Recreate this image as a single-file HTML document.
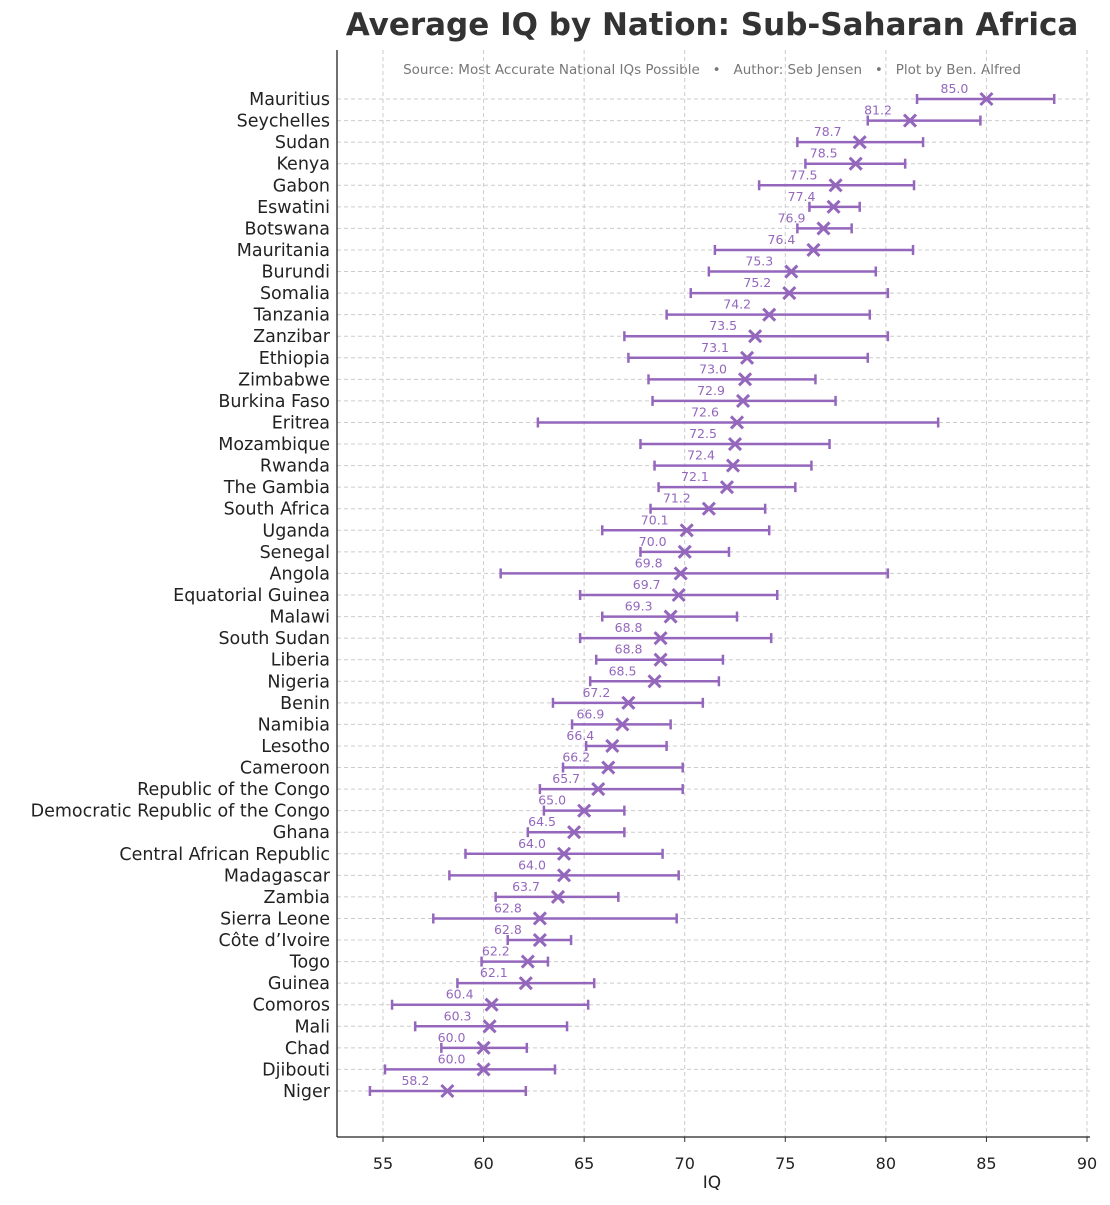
<!DOCTYPE html>
<html><head><meta charset="utf-8"><style>
body{margin:0;background:#fff;}
svg text{font-family:"DejaVu Sans","Liberation Sans",sans-serif;}
</style></head><body>
<svg id="chart" width="1110" height="1200" xmlns="http://www.w3.org/2000/svg">
<text x="712" y="35" text-anchor="middle" font-size="31" font-weight="bold" fill="#333">Average IQ by Nation: Sub-Saharan Africa</text>
<text x="712" y="74" text-anchor="middle" font-size="13.5" fill="#777" style="white-space:pre" xml:space="preserve">Source: Most Accurate National IQs Possible   •   Author: Seb Jensen   •   Plot by Ben. Alfred</text>
<g id="grid"></g><g id="marks"></g><g id="axes"></g>
</svg>
<script>
const countries=["Mauritius","Seychelles","Sudan","Kenya","Gabon","Eswatini","Botswana","Mauritania","Burundi","Somalia","Tanzania","Zanzibar","Ethiopia","Zimbabwe","Burkina Faso","Eritrea","Mozambique","Rwanda","The Gambia","South Africa","Uganda","Senegal","Angola","Equatorial Guinea","Malawi","South Sudan","Liberia","Nigeria","Benin","Namibia","Lesotho","Cameroon","Republic of the Congo","Democratic Republic of the Congo","Ghana","Central African Republic","Madagascar","Zambia","Sierra Leone","Côte d’Ivoire","Togo","Guinea","Comoros","Mali","Chad","Djibouti","Niger"];
const iq=[85.0,81.2,78.7,78.5,77.5,77.4,76.9,76.4,75.3,75.2,74.2,73.5,73.1,73.0,72.9,72.6,72.5,72.4,72.1,71.2,70.1,70.0,69.8,69.7,69.3,68.8,68.8,68.5,67.2,66.9,66.4,66.2,65.7,65.0,64.5,64.0,64.0,63.7,62.8,62.8,62.2,62.1,60.4,60.3,60.0,60.0,58.2];
const lower=[81.55,79.1,75.6,76.0,73.7,76.2,75.6,71.5,71.2,70.3,69.1,67.0,67.2,68.2,68.4,62.7,67.8,68.5,68.7,68.3,65.9,67.8,60.85,64.8,65.9,64.8,65.6,65.3,63.45,64.4,65.1,63.95,62.8,63.0,62.2,59.1,58.3,60.6,57.5,61.2,59.9,58.7,55.45,56.6,57.9,55.1,54.35];
const upper=[88.37,84.7,81.85,80.96,81.4,78.7,78.3,81.35,79.5,80.1,79.2,80.1,79.1,76.5,77.5,82.6,77.2,76.3,75.5,74.0,74.2,72.2,80.1,74.6,72.6,74.3,71.9,71.7,70.9,69.3,69.1,69.9,69.9,67.0,67.0,68.9,69.7,66.7,69.6,64.35,63.2,65.5,65.2,64.15,62.15,63.55,62.1];
const xTicks=[55,60,65,70,75,80,85,90];
const NS="http://www.w3.org/2000/svg";
const C="#9467bd";
function xs(v){return 383+(v-55)*(1087-383)/35;}
function ys(i){return 99+i*(1091-99)/46;}
function mk(t,a,p){const e=document.createElementNS(NS,t);for(const k in a)e.setAttribute(k,a[k]);p.appendChild(e);return e;}
const grid=document.getElementById('grid'),marks=document.getElementById('marks'),axes=document.getElementById('axes');
const L=337,R=1090,T=50,B=1137;
xTicks.forEach(t=>{
 const g=mk('line',{x1:xs(t),x2:xs(t),y1:T,y2:B,stroke:'#ccc','stroke-dasharray':'4,3','stroke-width':1},grid);
 
 
 const tk=mk('line',{x1:xs(t),x2:xs(t),y1:B,y2:B+5,stroke:'#333','stroke-width':1},axes);
 
 
 const tl=mk('text',{x:xs(t),y:B+32,'text-anchor':'middle','font-size':16,fill:'#222'},axes);
 tl.textContent=t;
 
 
});
countries.forEach((c,i)=>{
 const y=ys(i);
 const g=mk('line',{x1:L,x2:R,y1:y,y2:y,stroke:'#ccc','stroke-dasharray':'4,3','stroke-width':1},grid);
 
 
 const lab=mk('text',{x:330,y:y+6,'text-anchor':'end','font-size':17.5,fill:'#222'},axes);
 lab.textContent=c;
 
 
 const grp=mk('g',{},marks);
 
 
 const x1=xs(lower[i]),x2=xs(upper[i]),xv=xs(iq[i]);
 mk('line',{x1:x1,x2:x2,y1:y,y2:y,stroke:C,'stroke-width':2.5},grp);
 mk('line',{x1:x1,x2:x1,y1:y-5,y2:y+5,stroke:C,'stroke-width':2.5},grp);
 mk('line',{x1:x2,x2:x2,y1:y-5,y2:y+5,stroke:C,'stroke-width':2.5},grp);
 mk('path',{d:`M${xv-6},${y-6}L${xv+6},${y+6}M${xv-6},${y+6}L${xv+6},${y-6}`,stroke:C,'stroke-width':3,fill:'none'},grp);
 const vl=mk('text',{x:xv-32,y:y-6,'text-anchor':'middle','font-size':12.5,fill:C},grp);
 vl.textContent=iq[i].toFixed(1);
 
 
});
const ax1=mk('line',{x1:L,x2:L,y1:T,y2:B,stroke:'#222','stroke-width':1.3},axes);


const ax2=mk('line',{x1:L,x2:R,y1:B,y2:B,stroke:'#222','stroke-width':1.3},axes);


const xt=mk('text',{x:712,y:1188,'text-anchor':'middle','font-size':17,fill:'#222'},axes);
xt.textContent='IQ';


</script>
</body></html>
